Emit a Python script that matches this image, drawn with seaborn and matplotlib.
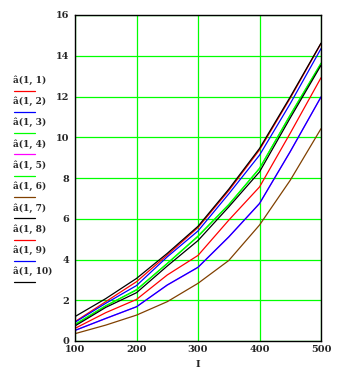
import numpy as np
import pandas as pd
import matplotlib
matplotlib.use("Agg")
import matplotlib.pyplot as plt
from matplotlib.lines import Line2D
import seaborn as sns

# ---- data ----
x_vals = [100, 150, 200, 250, 300, 350, 400, 450, 500]
labels = ["â(1, 1)", "â(1, 2)", "â(1, 3)", "â(1, 4)", "â(1, 5)",
          "â(1, 6)", "â(1, 7)", "â(1, 8)", "â(1, 9)", "â(1, 10)"]
s1 = [0.95, 1.93, 2.91, 4.22, 5.57, 7.38, 9.38, 11.92, 14.60]   # red (upper)
s2 = [0.92, 1.85, 2.72, 4.13, 5.40, 7.22, 9.12, 11.65, 14.35]   # blue (upper)
s3 = [0.82, 1.73, 2.50, 3.81, 5.15, 6.70, 8.46, 11.10, 13.64]   # green
s4 = [0.52, 1.10, 1.68, 2.74, 3.61, 5.10, 6.74, 9.29, 11.97]    # magenta
s5 = [0.80, 1.72, 2.52, 3.80, 5.13, 6.68, 8.48, 11.08, 13.60]   # green
s6 = [0.36, 0.78, 1.27, 1.93, 2.83, 3.95, 5.69, 7.89, 10.42]    # brown
s7 = [1.20, 2.08, 3.07, 4.30, 5.63, 7.45, 9.45, 11.98, 14.62]   # black (upper)
s8 = [0.62, 1.39, 2.04, 3.24, 4.20, 5.93, 7.56, 10.20, 12.92]   # red (lower)
s9 = [0.52, 1.11, 1.68, 2.75, 3.62, 5.11, 6.75, 9.30, 11.98]    # blue (lower)
s10 = [0.74, 1.65, 2.37, 3.68, 4.93, 6.58, 8.30, 10.95, 13.53]  # black (lower)
series = [s1, s2, s3, s4, s5, s6, s7, s8, s9, s10]
colors = ["#FF0000", "#0000FF", "#00FF00", "#FF00FF", "#00FF00",
          "#804000", "#000000", "#FF0000", "#0000FF", "#000000"]
x_ticks = [100, 200, 300, 400, 500]
y_ticks = [0, 2, 4, 6, 8, 10, 12, 14, 16]
x_label = "I"

# ---- build long table ----
rows = []
for lab, ys in zip(labels, series):
    for xv, yv in zip(x_vals, ys):
        rows.append({"x": xv, "y": yv, "curve": lab})
df = pd.DataFrame(rows)

sns.set_style("white")
plt.rcParams["font.family"] = ["DejaVu Serif"]

W, H = 342, 371
fig = plt.figure(figsize=(W / 100, H / 100), dpi=100)
ax = fig.add_axes([75 / W, (H - 341) / H, (321 - 75) / W, (341 - 15) / H])

ax.set_xlim(100, 500)
ax.set_ylim(0, 16)
ax.set_xticks(x_ticks)
ax.set_yticks(y_ticks)
ax.set_axisbelow(True)
ax.grid(True, color="#00FF00", linewidth=0.9)

sns.lineplot(data=df, x="x", y="y", hue="curve", hue_order=labels,
             palette=dict(zip(labels, colors)), linewidth=0.9,
             legend=False, ax=ax, sort=False)

ax.set_xlabel(x_label, fontsize=7, fontweight="bold", labelpad=4)
ax.set_ylabel("")
ax.tick_params(axis="both", length=0, labelsize=7)
ax.tick_params(axis="y", pad=4)
ax.tick_params(axis="x", pad=3)
for t in ax.get_xticklabels() + ax.get_yticklabels():
    t.set_fontweight("bold")
for sp in ax.spines.values():
    sp.set_visible(True)
    sp.set_color("black")
    sp.set_linewidth(1.0)

# ---- legend on the left (label above line sample) ----
y0 = 80.0
step = 21.3
for i, (lab, col) in enumerate(zip(labels, colors)):
    ly = y0 + i * step
    fig.text(13 / W, 1 - ly / H, lab, fontsize=6.5, fontweight="bold",
             ha="left", va="center")
    lny = 1 - (ly + 10.5) / H
    fig.add_artist(Line2D([14 / W, 35 / W], [lny, lny], color=col,
                          linewidth=0.9, transform=fig.transFigure))

fig.savefig("out.png", dpi=100)
